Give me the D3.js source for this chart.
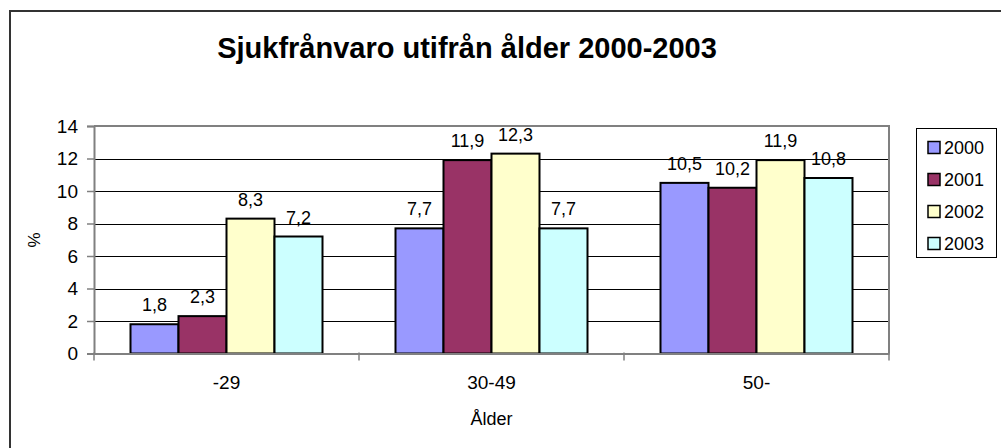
<!DOCTYPE html>
<html>
<head>
<meta charset="utf-8">
<script src="https://cdn.jsdelivr.net/npm/d3@7"></script>
<style>
  body { margin: 0; background: #fff; }
  svg { display: block; font-family: Arial, "Liberation Sans", sans-serif; }
</style>
</head>
<body>
<script>
// data
var categories = ["-29", "30-49", "50-"];
var years = ["2000", "2001", "2002", "2003"];
var v2000 = [1.8, 7.7, 10.5];
var v2001 = [2.3, 11.9, 10.2];
var v2002 = [8.3, 12.3, 11.9];
var v2003 = [7.2, 7.7, 10.8];
var yTicks = [0, 2, 4, 6, 8, 10, 12, 14];
var colors = ["#9999ff", "#993366", "#ffffcc", "#ccffff"];

var series = [v2000, v2001, v2002, v2003];

var width = 1001, height = 448;
var plot = {left: 94, right: 889, top: 126, bottom: 353.5};

var svg = d3.select("body").append("svg")
  .attr("width", width)
  .attr("height", height);

// outer chart frame (runs past the right and bottom edge)
svg.append("rect")
  .attr("x", 10).attr("y", 11)
  .attr("width", 1010).attr("height", 460)
  .attr("fill", "#fff")
  .attr("stroke", "#333")
  .attr("stroke-width", 2);

svg.append("text")
  .attr("x", 467).attr("y", 58)
  .attr("text-anchor", "middle")
  .attr("font-size", 29)
  .attr("font-weight", "bold")
  .text("Sjukfrånvaro utifrån ålder 2000-2003");

var x0 = d3.scaleBand()
  .domain(categories)
  .range([plot.left, plot.right]);

var groupPad = 36.5;
var x1 = d3.scaleBand()
  .domain(years)
  .range([groupPad, x0.bandwidth() - groupPad]);

var y = d3.scaleLinear()
  .domain([0, 14])
  .range([plot.bottom, plot.top]);

// gridlines
svg.append("g").selectAll("line")
  .data(yTicks.filter(function(d) { return d > 0 && d < 14; }))
  .enter().append("line")
  .attr("x1", plot.left).attr("x2", plot.right)
  .attr("y1", function(d) { return Math.round(y(d)) + 0.5; })
  .attr("y2", function(d) { return Math.round(y(d)) + 0.5; })
  .attr("stroke", "#000")
  .attr("stroke-width", 1);

// plot border top/right
svg.append("path")
  .attr("d", "M" + plot.left + "," + plot.top + "H" + plot.right + "V" + plot.bottom)
  .attr("fill", "none")
  .attr("stroke", "#808080")
  .attr("stroke-width", 2);

// bars
var groups = svg.append("g").selectAll("g")
  .data(categories)
  .enter().append("g")
  .attr("transform", function(d) { return "translate(" + x0(d) + ",0)"; });

groups.selectAll("rect")
  .data(function(d, i) { return years.map(function(yr, j) { return {year: yr, value: series[j][i], j: j}; }); })
  .enter().append("rect")
  .attr("x", function(d) { return x1(d.year); })
  .attr("y", function(d) { return y(d.value); })
  .attr("width", x1.bandwidth())
  .attr("height", function(d) { return plot.bottom - y(d.value); })
  .attr("fill", function(d) { return colors[d.j]; })
  .attr("stroke", "#000")
  .attr("stroke-width", 2);

groups.selectAll("text")
  .data(function(d, i) { return years.map(function(yr, j) { return {year: yr, value: series[j][i]}; }); })
  .enter().append("text")
  .attr("x", function(d) { return x1(d.year) + x1.bandwidth() / 2; })
  .attr("y", function(d) { return y(d.value) - 13; })
  .attr("text-anchor", "middle")
  .attr("font-size", 18)
  .text(function(d) { return String(d.value).replace(".", ","); });

// y axis
var yAxis = d3.axisLeft(y).tickValues(yTicks).tickSize(7).tickPadding(9);
var gy = svg.append("g")
  .attr("transform", "translate(" + plot.left + ",0)")
  .call(yAxis);
gy.select(".domain").attr("stroke", "#808080").attr("stroke-width", 2);
gy.selectAll(".tick line").attr("stroke", "#808080").attr("stroke-width", 1.5);
gy.selectAll(".tick text")
  .attr("font-size", 19)
  .attr("font-family", "Arial, 'Liberation Sans', sans-serif")
  .attr("fill", "#000");

// x axis
var xAxis = d3.axisBottom(x0).tickSize(0).tickPadding(22);
var gx = svg.append("g")
  .attr("transform", "translate(0," + plot.bottom + ")")
  .call(xAxis);
gx.select(".domain").attr("stroke", "#808080").attr("stroke-width", 2);
gx.selectAll(".tick text")
  .attr("font-size", 19)
  .attr("font-family", "Arial, 'Liberation Sans', sans-serif")
  .attr("fill", "#000");

// x ticks at the category edges
var edges = categories.map(function(c) { return x0(c); }).concat([plot.right]);
gx.append("g").selectAll("line")
  .data(edges)
  .enter().append("line")
  .attr("x1", function(d) { return d; }).attr("x2", function(d) { return d; })
  .attr("y1", -1).attr("y2", 7)
  .attr("stroke", "#808080")
  .attr("stroke-width", 1.5);

// axis titles
svg.append("text")
  .attr("x", 0).attr("y", 0)
  .attr("transform", "translate(40,240) rotate(-90)")
  .attr("text-anchor", "middle")
  .attr("font-size", 17)
  .text("%");

svg.append("text")
  .attr("x", (plot.left + plot.right) / 2).attr("y", 425)
  .attr("text-anchor", "middle")
  .attr("font-size", 18)
  .text("Ålder");

// legend
var legend = svg.append("g").attr("transform", "translate(916,128)");
legend.append("rect")
  .attr("x", 0.5).attr("y", 0.5)
  .attr("width", 80).attr("height", 129)
  .attr("fill", "#fff")
  .attr("stroke", "#000")
  .attr("stroke-width", 1);

var items = legend.selectAll("g.item")
  .data(years)
  .enter().append("g")
  .attr("class", "item")
  .attr("transform", function(d, i) { return "translate(0," + (19.5 + i * 32) + ")"; });

items.append("rect")
  .attr("x", 12).attr("y", -6)
  .attr("width", 12).attr("height", 12)
  .attr("fill", function(d, i) { return colors[i]; })
  .attr("stroke", "#000")
  .attr("stroke-width", 1.5);

items.append("text")
  .attr("x", 28).attr("y", 0)
  .attr("dy", "0.36em")
  .attr("font-size", 18)
  .text(function(d) { return d; });
</script>
</body>
</html>
